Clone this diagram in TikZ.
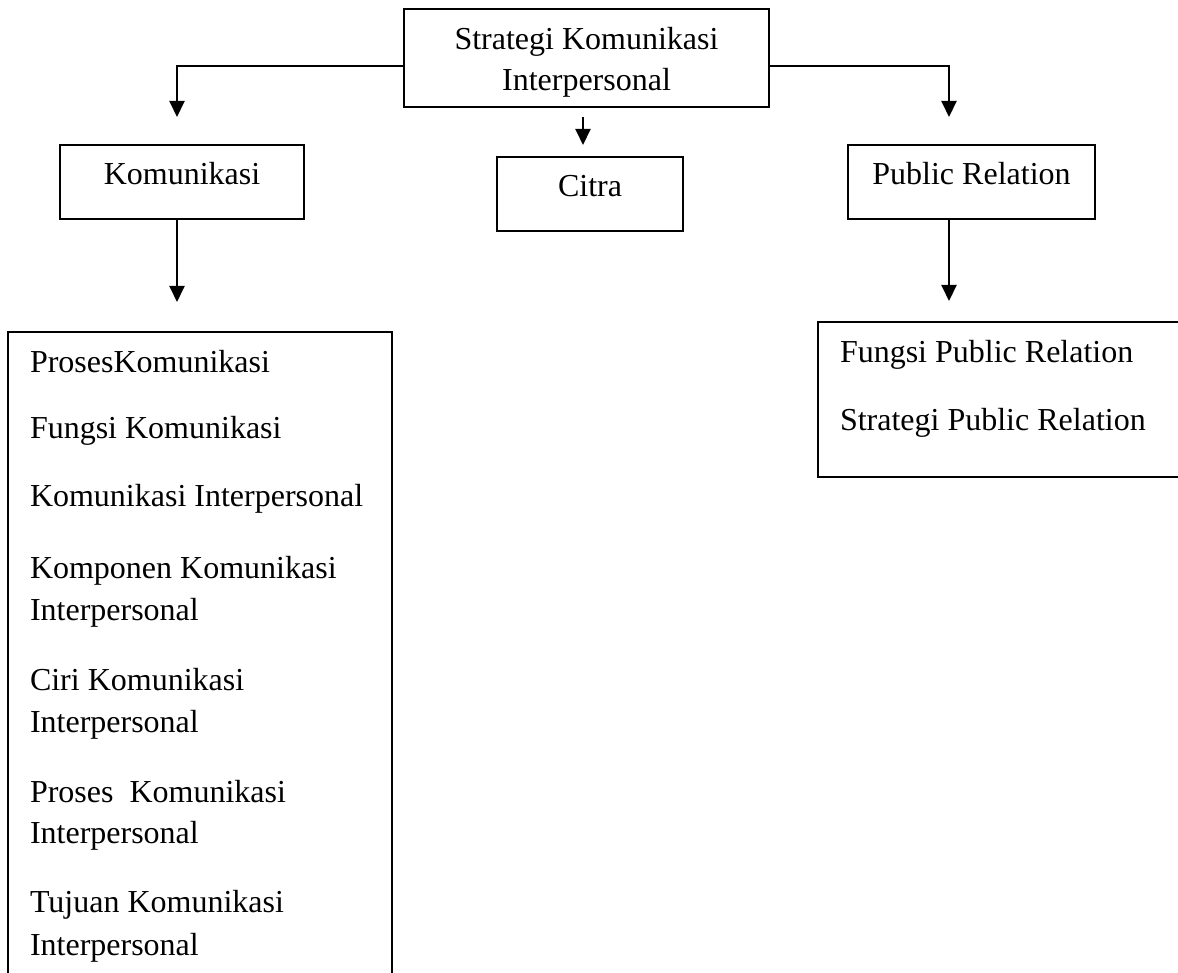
\documentclass[tikz,border=0pt]{standalone}
\usepackage{fontspec}
\setmainfont{Liberation Serif}
\usetikzlibrary{arrows.meta}

\begin{document}
\begin{tikzpicture}[x=0.5pt,y=-0.5pt,line width=1pt,
  font=\fontsize{16}{20.5}\selectfont,
  box/.style={draw,rectangle,inner sep=0pt,text height=11pt,text depth=8pt},
  arr/.style={-{Triangle[width=7.5pt,length=8pt]}},
  item/.style={anchor=base west,inner sep=0pt}]
  \useasboundingbox (0,0) rectangle (1178,973);
  \node[box,minimum width=182.5pt,minimum height=49pt,align=center,text height=33pt,text depth=0pt] (strategi) at (586.5,58) {Strategi Komunikasi\\Interpersonal};
  \node[box,minimum width=122pt,minimum height=37pt] (komunikasi) at (182,182) {Komunikasi};
  \node[box,minimum width=93pt,minimum height=37pt] (citra) at (590,194) {Citra};
  \node[box,minimum width=123.5pt,minimum height=37pt] (publicRel) at (971.5,182) {Public Relation};
  \node[draw,inner sep=0pt,minimum width=192pt,minimum height=334pt] (komList) at (200,666) {};
  \node[draw,inner sep=0pt,minimum width=191pt,minimum height=77.5pt] (prList) at (1009,399.5) {};
  \coordinate (komIn) at (177,117);
  \coordinate (prIn) at (949,117);
  \coordinate (citraTop) at (583,117);
  \coordinate (citraIn) at (583,145);
  \coordinate (komListIn) at (177,302);
  \coordinate (prListIn) at (949,301);
  \draw[arr] ([yshift=-4pt]strategi.west) -| (komIn);
  \draw[arr] ([yshift=-4pt]strategi.east) -| (prIn);
  \draw[arr] (citraTop) -- (citraIn);
  \draw[arr] (komunikasi.south -| komIn) -- (komListIn);
  \draw[arr] (publicRel.south -| prIn) -- (prListIn);
  \node[item] (kItem1) at (29,372) {ProsesKomunikasi};
  \node[item] (kItem2) at (29,438) {Fungsi Komunikasi};
  \node[item] (kItem3) at (29,506) {Komunikasi Interpersonal};
  \node[item] (kItem4) at (29,578) {Komponen Komunikasi};
  \node[item] (kItem4b) at (29,620) {Interpersonal};
  \node[item] (kItem5) at (29,690) {Ciri Komunikasi};
  \node[item] (kItem5b) at (29,732) {Interpersonal};
  \node[item] (kItem6) at (29,802) {Proses~~Komunikasi};
  \node[item] (kItem6b) at (29,843) {Interpersonal};
  \node[item] (kItem7) at (29,912) {Tujuan Komunikasi};
  \node[item] (kItem7b) at (29,955) {Interpersonal};
  \node[item] (pItem1) at (839,362) {Fungsi Public Relation};
  \node[item] (pItem2) at (839,430) {Strategi Public Relation};
\end{tikzpicture}
\end{document}
